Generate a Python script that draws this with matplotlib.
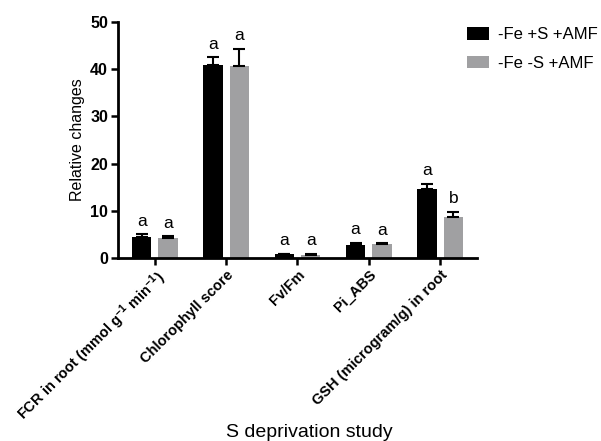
import numpy as np
import matplotlib
matplotlib.use("Agg")
import matplotlib.pyplot as plt

plt.rcParams['font.family'] = ['Liberation Sans', 'DejaVu Sans']
plt.rcParams['mathtext.default'] = 'regular'

# data
categories = ['FCR in root (mmol g$^{-1}$ min$^{-1}$)', 'Chlorophyll score', 'Fv/Fm',
              'Pi_ABS', 'GSH (microgram/g) in root']
plus_s = [4.5, 40.9, 0.8, 2.7, 14.6]
plus_s_err = [0.5, 1.6, 0.1, 0.5, 1.1]
minus_s = [4.2, 40.7, 0.7, 2.9, 8.6]
minus_s_err = [0.4, 3.6, 0.15, 0.2, 1.2]
letters_plus = ['a', 'a', 'a', 'a', 'a']
letters_minus = ['a', 'a', 'a', 'a', 'b']
series_names = ['-Fe +S +AMF', '-Fe -S +AMF']

fig = plt.figure(figsize=(6.01, 4.41), dpi=100)
ax = fig.add_axes([0.196, 0.415, 0.598, 0.535])

x = np.arange(len(categories))
w = 0.27
off = 0.185
black = '#000000'
grey = '#a0a0a2'

for xs, vals, errs, col, name, lets in [(x - off, plus_s, plus_s_err, black, series_names[0], letters_plus),
                                        (x + off, minus_s, minus_s_err, grey, series_names[1], letters_minus)]:
    ax.bar(xs, vals, width=w, color=col, label=name, zorder=2)
    ax.errorbar(xs, vals, yerr=[np.zeros(len(vals)), errs], fmt='none', ecolor='black',
                elinewidth=1.5, capsize=4, capthick=1.5, zorder=3)
    for xi, v, e, t in zip(xs, vals, errs, lets):
        ax.text(xi, v + e + 1.2, t, ha='center', va='bottom', fontsize=12.5)

ax.set_xlim(-0.52, 4.52)
ax.set_ylim(0, 50)
ax.set_yticks([0, 10, 20, 30, 40, 50])
ax.set_xticks(x)
ax.set_xticklabels(categories, rotation=45, ha='right', rotation_mode='anchor',
                   fontweight='bold', fontsize=10.5)
for lab in ax.get_yticklabels():
    lab.set_fontweight('bold')
    lab.set_fontsize(11.5)

for s in ['top', 'right']:
    ax.spines[s].set_visible(False)
for s in ['left', 'bottom']:
    ax.spines[s].set_linewidth(2)
ax.tick_params(axis='both', width=1.8, length=5, direction='out', pad=2)

ax.set_ylabel('Relative changes', fontsize=11.5)
fig.text(0.514, 0.02, 'S deprivation study', ha='center', va='center', fontsize=14)

fig.legend(loc='upper left', bbox_to_anchor=(467 / 601, 1 - 27 / 441), frameon=False,
           fontsize=12, borderpad=0, borderaxespad=0,
           handlelength=1.3, handleheight=0.8, handletextpad=0.55, labelspacing=0.8)

fig.savefig('out.png', dpi=100)
